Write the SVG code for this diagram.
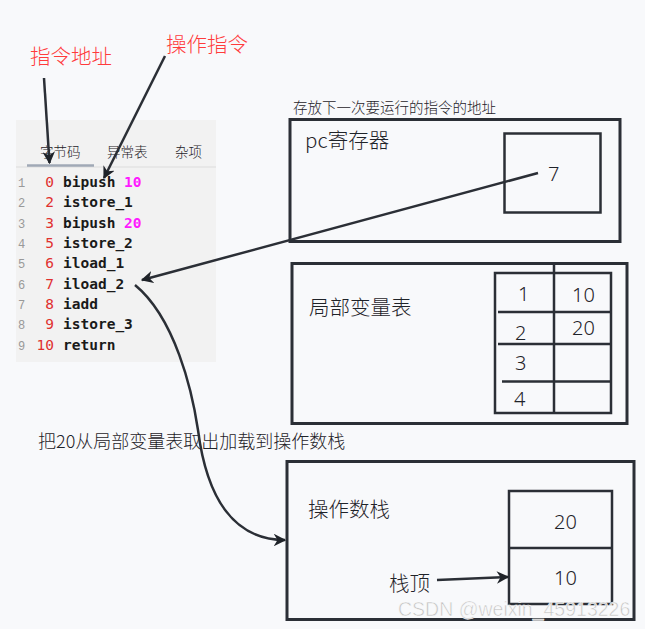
<svg xmlns="http://www.w3.org/2000/svg" width="645" height="629" viewBox="0 0 645 629">
<style>
.cn{font-family:"Noto Sans CJK SC","Noto Sans",sans-serif;font-weight:300;fill:#1f2329}
.red{fill:#ff3b3b}
.mono{font-family:"DejaVu Sans Mono","Liberation Mono",monospace;font-weight:bold;font-size:14.5px;fill:#1a1a1a}
.num{font-family:"Liberation Mono",monospace;font-size:12px;fill:#999}
.off{font-family:"DejaVu Sans Mono","Liberation Mono",monospace;font-size:14.5px;fill:#e0302f;text-anchor:end}
.mag{fill:#ff1aff}
.box{fill:none;stroke:#2b2f36;stroke-width:3}
.ibox{fill:none;stroke:#2b2f36;stroke-width:2.5}
.ln{stroke:#2b2f36;stroke-width:2.5;fill:none}
.val{font-family:"Noto Sans","Open Sans",sans-serif;font-weight:300;font-size:20px;fill:#1f2329}
</style>
<defs>
<marker id="ah" viewBox="0 0 10 10" refX="9" refY="5" markerWidth="5" markerHeight="5" orient="auto" markerUnits="strokeWidth">
<path d="M0,0 L10,5 L0,10 L3,5 z" fill="#1f2329"/>
</marker>
</defs>
<rect width="645" height="629" fill="#f8f9fb"/>

<g id="code-panel">
<rect x="16" y="120" width="200" height="242" fill="#f2f2f2"/>
<line x1="16" y1="167" x2="216" y2="167" stroke="#dcdcdc" stroke-width="1"/>
<line x1="27" y1="165.5" x2="94" y2="165.5" stroke="#a0a9b6" stroke-width="2.5"/>
<text class="cn" x="40" y="157" font-size="13.5">字节码</text>
<text class="cn" x="107" y="157" font-size="13.5">异常表</text>
<text class="cn" x="175" y="157" font-size="13.5">杂项</text>
<g>
<text class="num" x="18" y="187">1</text><text class="off" x="54" y="187">0</text><text class="mono" x="63" y="187">bipush <tspan class="mag">10</tspan></text>
<text class="num" x="18" y="207">2</text><text class="off" x="54" y="207">2</text><text class="mono" x="63" y="207">istore_1</text>
<text class="num" x="18" y="228">3</text><text class="off" x="54" y="228">3</text><text class="mono" x="63" y="228">bipush <tspan class="mag">20</tspan></text>
<text class="num" x="18" y="248">4</text><text class="off" x="54" y="248">5</text><text class="mono" x="63" y="248">istore_2</text>
<text class="num" x="18" y="268">5</text><text class="off" x="54" y="268">6</text><text class="mono" x="63" y="268">iload_1</text>
<text class="num" x="18" y="289">6</text><text class="off" x="54" y="289">7</text><text class="mono" x="63" y="289">iload_2</text>
<text class="num" x="18" y="309">7</text><text class="off" x="54" y="309">8</text><text class="mono" x="63" y="309">iadd</text>
<text class="num" x="18" y="329">8</text><text class="off" x="54" y="329">9</text><text class="mono" x="63" y="329">istore_3</text>
<text class="num" x="18" y="350">9</text><text class="off" x="54" y="350">10</text><text class="mono" x="63" y="350">return</text>
</g>
</g>

<g id="label-addr"><text class="cn red" x="30" y="64" font-size="20.5">指令地址</text></g>
<g id="label-op"><text class="cn red" x="166" y="52" font-size="20.5">操作指令</text></g>

<g id="pc-register">
<text class="cn" x="293" y="113" font-size="14.5">存放下一次要运行的指令的地址</text>
<rect class="box" x="290" y="119.5" width="330" height="122"/>
<text class="cn" x="305" y="148" font-size="20.5">pc寄存器</text>
<rect class="ibox" x="504.5" y="133.5" width="96" height="79"/>
<text class="val" x="548" y="181">7</text>
</g>

<g id="local-vars">
<rect class="box" x="292" y="263.5" width="335" height="160"/>
<text class="cn" x="309" y="315" font-size="20.5">局部变量表</text>
<rect class="ibox" x="495" y="273" width="116" height="140"/>
<line class="ln" x1="554" y1="264" x2="554" y2="413"/>
<line class="ln" x1="498" y1="312" x2="612" y2="312"/>
<line class="ln" x1="498" y1="344" x2="611" y2="344"/>
<line class="ln" x1="502" y1="381.5" x2="611" y2="381.5"/>
<text class="val" x="518" y="301">1</text>
<text class="val" x="572" y="302">10</text>
<text class="val" x="515" y="340">2</text>
<text class="val" x="572" y="335">20</text>
<text class="val" x="515" y="370">3</text>
<text class="val" x="514" y="406">4</text>
</g>

<g id="operand-stack">
<rect class="box" x="287" y="461.5" width="347" height="158"/>
<text class="cn" x="308" y="517" font-size="20.5">操作数栈</text>
<rect class="ibox" x="509" y="491" width="103" height="113"/>
<line class="ln" x1="509" y1="548" x2="612" y2="548"/>
<text class="val" x="554" y="529">20</text>
<text class="val" x="554" y="585">10</text>
<text class="cn" x="389" y="591" font-size="20.5">栈顶</text>
</g>

<g id="caption"><text class="cn" x="38" y="448" font-size="18">把20从局部变量表取出加载到操作数栈</text></g>

<g id="connectors">
<line class="ln" x1="44" y1="78" x2="49.5" y2="163" marker-end="url(#ah)"/>
<line class="ln" x1="165" y1="56" x2="104" y2="178" marker-end="url(#ah)"/>
<line class="ln" x1="538" y1="173" x2="142" y2="280" marker-end="url(#ah)"/>
<path class="ln" d="M135,285 C175,318 192,390 198,430 C207,500 235,540 285,540" marker-end="url(#ah)"/>
<line class="ln" x1="437" y1="580" x2="508" y2="577" marker-end="url(#ah)"/>
</g>

<g id="watermark"><text x="398" y="616" font-family="Liberation Sans,Arial,sans-serif" font-size="19.5" fill="#c4c4c4" stroke="#ffffff" stroke-width="0.5">CSDN @weixin_45913226</text></g>
</svg>
